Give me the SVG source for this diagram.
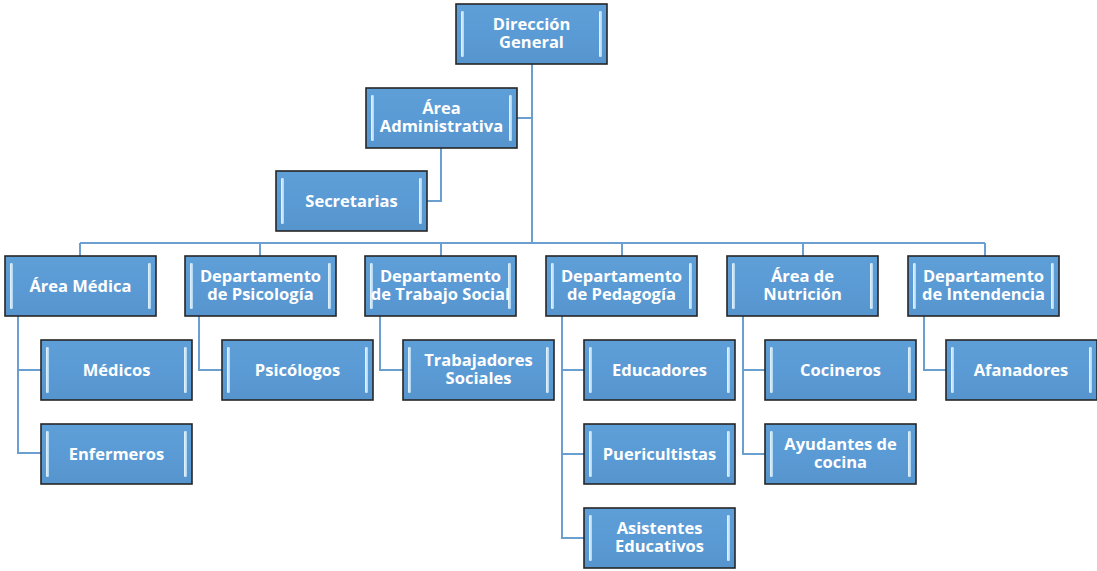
<svg xmlns="http://www.w3.org/2000/svg" width="1097" height="571" viewBox="0 0 1097 571">
<defs>
<linearGradient id="fill" x1="0" y1="0" x2="0" y2="1">
<stop offset="0" stop-color="#5f9fd8"/>
<stop offset="0.5" stop-color="#5b9bd5"/>
<stop offset="1" stop-color="#5694cd"/>
</linearGradient>
<linearGradient id="bar" x1="0" y1="0" x2="1" y2="0">
<stop offset="0" stop-color="#eaf6ff"/>
<stop offset="1" stop-color="#a9d3f2"/>
</linearGradient>
<symbol id="box" viewBox="0 0 151 60" width="151" height="60" overflow="visible">
<rect x="0" y="0" width="151" height="60" fill="url(#fill)" stroke="#262626" stroke-width="1.6"/>
<rect x="5" y="7" width="3" height="46" rx="1.2" fill="url(#bar)"/>
<rect x="143" y="7" width="3" height="46" rx="1.2" fill="url(#bar)"/>
</symbol>
</defs>
<style>
.c{fill:none;stroke:#6a9fd0;stroke-width:2}
text{font-family:"Open Sans","Liberation Sans",sans-serif;font-weight:bold;font-size:16.5px;fill:#ffffff;text-anchor:middle}
</style>
<rect width="1097" height="571" fill="#ffffff"/>
<g id="connectors">
<path class="c" d="M532 64V243"/>
<path class="c" d="M517 118H532"/>
<path class="c" d="M441 148V201H427"/>
<path class="c" d="M80 243H985"/>
<path class="c" d="M80 243V256M260 243V256M441 243V256M622 243V256M803 243V256M985 243V256"/>
<path class="c" d="M18 316V453H41M18 370H41"/>
<path class="c" d="M199 316V370H222"/>
<path class="c" d="M380 316V370H403"/>
<path class="c" d="M562 316V538H584M562 370H584M562 454H584"/>
<path class="c" d="M743 316V454H765M743 370H765"/>
<path class="c" d="M924 316V370H946"/>
</g>
<g id="n-direccion"><use href="#box" x="456" y="4"/><text x="531.5" y="30">Dirección</text><text x="531.5" y="48">General</text></g>
<g id="n-admin"><use href="#box" x="366" y="88"/><text x="441.5" y="114">Área</text><text x="441.5" y="132">Administrativa</text></g>
<g id="n-secretarias"><use href="#box" x="276" y="171"/><text x="351.5" y="207">Secretarias</text></g>
<g id="n-medica"><use href="#box" x="5" y="256"/><text x="80.5" y="292">Área Médica</text></g>
<g id="n-psicologia"><use href="#box" x="185" y="256"/><text x="260.5" y="282">Departamento</text><text x="260.5" y="300">de Psicología</text></g>
<g id="n-trabajo"><use href="#box" x="365" y="256"/><text x="440.5" y="282">Departamento</text><text x="440.5" y="300">de Trabajo Social</text></g>
<g id="n-pedagogia"><use href="#box" x="546" y="256"/><text x="621.5" y="282">Departamento</text><text x="621.5" y="300">de Pedagogía</text></g>
<g id="n-nutricion"><use href="#box" x="727" y="256"/><text x="802.5" y="282">Área de</text><text x="802.5" y="300">Nutrición</text></g>
<g id="n-intendencia"><use href="#box" x="908" y="256"/><text x="983.5" y="282">Departamento</text><text x="983.5" y="300">de Intendencia</text></g>
<g id="n-medicos"><use href="#box" x="41" y="340"/><text x="116.5" y="376">Médicos</text></g>
<g id="n-enfermeros"><use href="#box" x="41" y="424"/><text x="116.5" y="460">Enfermeros</text></g>
<g id="n-psicologos"><use href="#box" x="222" y="340"/><text x="297.5" y="376">Psicólogos</text></g>
<g id="n-trabajadores"><use href="#box" x="403" y="340"/><text x="478.5" y="366">Trabajadores</text><text x="478.5" y="384">Sociales</text></g>
<g id="n-educadores"><use href="#box" x="584" y="340"/><text x="659.5" y="376">Educadores</text></g>
<g id="n-puericultistas"><use href="#box" x="584" y="424"/><text x="659.5" y="460">Puericultistas</text></g>
<g id="n-asistentes"><use href="#box" x="584" y="508"/><text x="659.5" y="534">Asistentes</text><text x="659.5" y="552">Educativos</text></g>
<g id="n-cocineros"><use href="#box" x="765" y="340"/><text x="840.5" y="376">Cocineros</text></g>
<g id="n-ayudantes"><use href="#box" x="765" y="424"/><text x="840.5" y="450">Ayudantes de</text><text x="840.5" y="468">cocina</text></g>
<g id="n-afanadores"><use href="#box" x="946" y="340"/><text x="1021" y="376">Afanadores</text></g>
</svg>
